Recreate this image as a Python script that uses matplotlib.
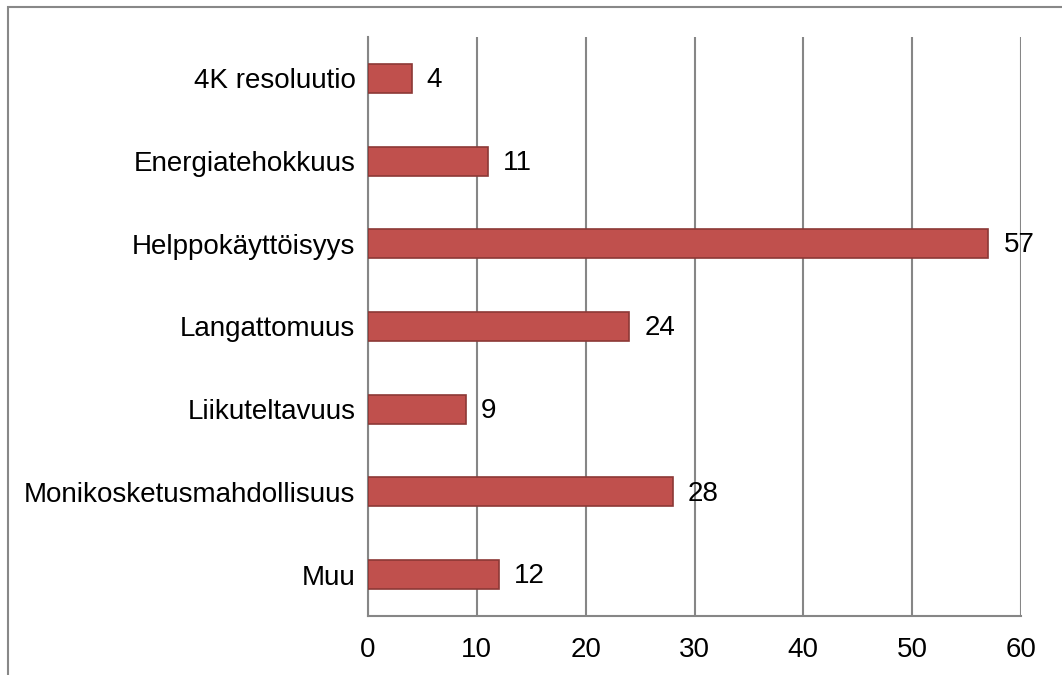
import matplotlib
matplotlib.use("Agg")
import matplotlib.pyplot as plt
from matplotlib.patches import Rectangle

# dane
kategorie = ["4K resoluutio", "Energiatehokkuus", "Helppokäyttöisyys", "Langattomuus",
             "Liikuteltavuus", "Monikosketusmahdollisuus", "Muu"]
wartosci = [4, 11, 57, 24, 9, 28, 12]
ticki_x = [0, 10, 20, 30, 40, 50, 60]

plt.rcParams['font.family'] = ['Liberation Sans', 'DejaVu Sans']

fig = plt.figure(figsize=(10.62, 6.75), dpi=100)
ax = fig.add_axes([368 / 1062, 59 / 675, 653 / 1062, 579 / 675])

pozycje = list(range(len(kategorie)))
ax.barh(pozycje, wartosci, height=0.35, color="#C0504D", edgecolor="#8C3836", linewidth=1.2, zorder=3)

for p, w in zip(pozycje, wartosci):
    ax.text(w + 1.4, p + 0.02, str(w), va="center", ha="left", fontsize=20, color="black", zorder=4)

ax.set_yticks(pozycje)
ax.set_yticklabels(kategorie, fontsize=20)
ax.set_ylim(len(kategorie) - 0.5, -0.5)
ax.set_xlim(0, 60)
ax.set_xticks(ticki_x)
ax.set_xticklabels([str(t) for t in ticki_x], fontsize=20)

ax.grid(axis="x", color="#868686", linewidth=1.5, zorder=0)
ax.tick_params(axis="both", length=0)
ax.tick_params(axis="y", pad=9)
ax.tick_params(axis="x", pad=15)

for s in ["top", "right"]:
    ax.spines[s].set_visible(False)
for s in ["left", "bottom"]:
    ax.spines[s].set_color("#868686")
    ax.spines[s].set_linewidth(1.5)

# ramka wykresu
ramka = Rectangle((8 / 1062, -0.2), 1.2, 1.2 - 7 / 675, transform=fig.transFigure,
                  fill=False, edgecolor="#888888", linewidth=1.5)
fig.patches.append(ramka)

fig.savefig("out.png", dpi=100)
